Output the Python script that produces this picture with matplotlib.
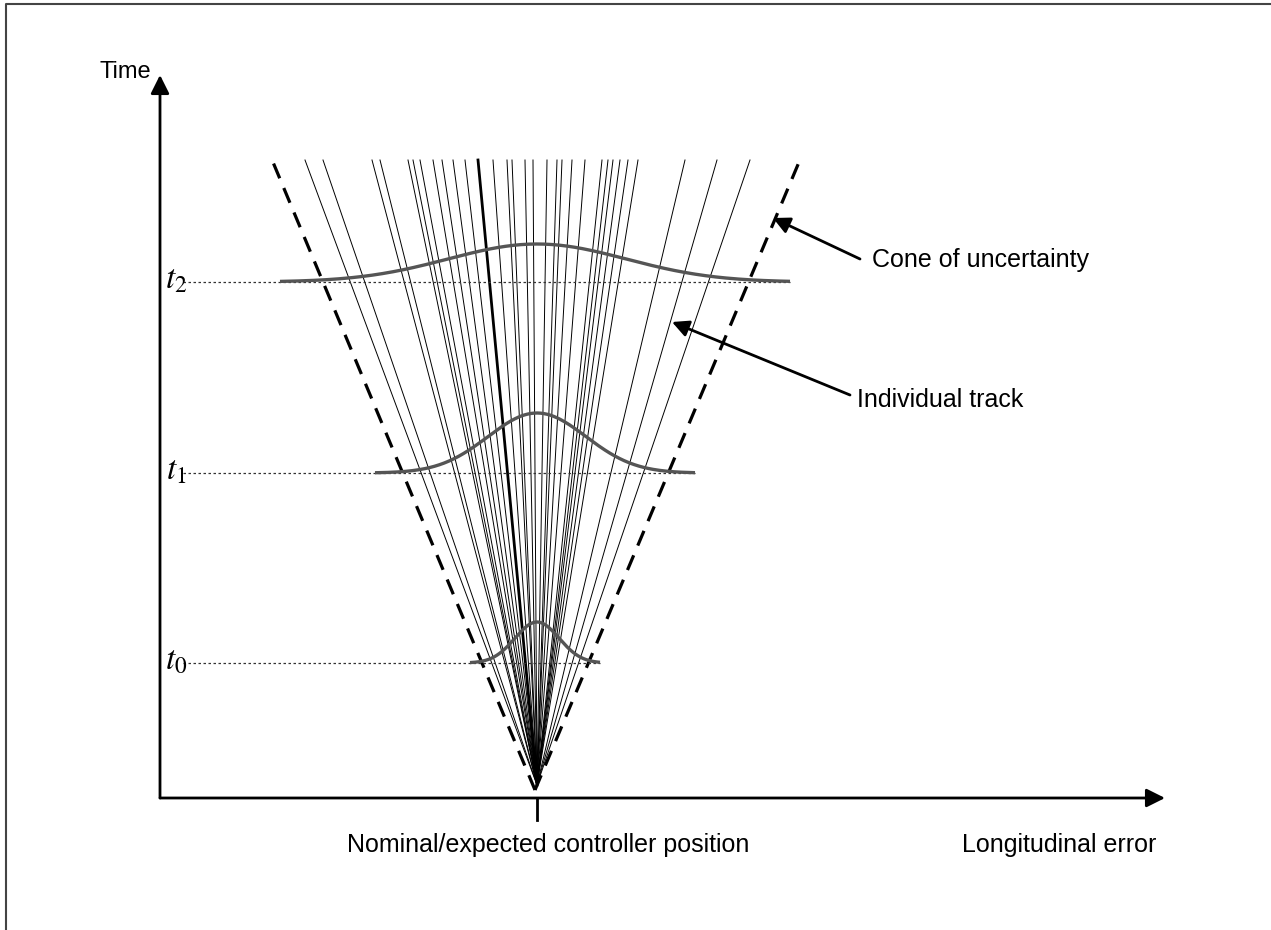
import numpy as np
import matplotlib
matplotlib.use('Agg')
import matplotlib.pyplot as plt

plt.rcParams['font.family'] = ['Liberation Sans', 'DejaVu Sans']
plt.rcParams['mathtext.fontset'] = 'stix'

# top end of each individual track (error offset from nominal)
track_ends = [-232, -214, -165, -157, -129, -124, -117, -104, -95, -84, -72,
              -59, -44, -30, -25, -12, -4, 10, 20, 25, 35, 48, 65, 71, 76, 83,
              91, 101, 148, 180, 213]
thick_track = -59
track_start_time = 13
track_end_time = 638

# cone of uncertainty edges at top
cone_left = -267
cone_right = 265
cone_start_time = 8
cone_end_time = 643

# distributions at t0, t1, t2
dist_labels = ['$t_0$', '$t_1$', '$t_2$']
dist_times = [135, 325, 516]
dist_heights = [41, 60, 38]
dist_sigmas = [22, 49, 89]
dist_left = [-67, -162, -257]
dist_right = [63, 158, 253]

fig = plt.figure(figsize=(12.71, 9.30), dpi=100)
ax = fig.add_axes([0, 0, 1, 1])
ax.set_xlim(-537, 734)
ax.set_ylim(-132, 798)
ax.axis('off')

# frame
ax.plot([-531, -531, 734], [-140, 794, 794], color='#444444', lw=1.5)

# tracks
for e in track_ends:
    lw = 2.0 if e == thick_track else 0.7
    ax.plot([0, e], [track_start_time, track_end_time], color='black', lw=lw)

# cone
for e in [cone_left, cone_right]:
    ax.plot([-2, e], [cone_start_time, cone_end_time], color='black', lw=2.3,
            dashes=(5, 3.3))

# dotted time lines, distributions and labels
for lab, t, h, s, l, r in zip(dist_labels, dist_times, dist_heights, dist_sigmas,
                               dist_left, dist_right):
    ax.plot([-354, r], [t, t], color='#333333', lw=0.9, ls=(0, (2, 2)))
    xs = np.linspace(l, r, 200)
    ax.plot(xs, t + h * np.exp(-xs ** 2 / (2 * s ** 2)), color='#555555', lw=2.4,
            solid_capstyle='butt')
    ax.text(-361, t + 2, lab, fontsize=24, ha='center', va='center')

# axes arrows
arrow = dict(arrowstyle='-|>', mutation_scale=28, lw=2, color='black',
             shrinkA=0, shrinkB=0)
ax.annotate('', xy=(-377, 723), xytext=(-377, 0), arrowprops=arrow)
ax.annotate('', xy=(628, 0), xytext=(-377, 0), arrowprops=arrow)
ax.plot([0, 0], [0, -22], color='black', lw=2)

ax.text(-437, 726, 'Time', fontsize=17, ha='left', va='center')
ax.text(11, -47, 'Nominal/expected controller position', fontsize=18,
        ha='center', va='center')
ax.text(425, -47, 'Longitudinal error', fontsize=18, ha='left', va='center')

pointer = dict(arrowstyle='-|>', mutation_scale=25, lw=2, color='black',
               shrinkA=0, shrinkB=0)
ax.annotate('', xy=(236, 580), xytext=(323, 539), arrowprops=pointer)
ax.text(335, 538, 'Cone of uncertainty', fontsize=18, va='center', ha='left')
ax.annotate('', xy=(135, 476), xytext=(313, 403), arrowprops=pointer)
ax.text(320, 398, 'Individual track', fontsize=18, va='center', ha='left')

fig.savefig('out.png', dpi=100)
